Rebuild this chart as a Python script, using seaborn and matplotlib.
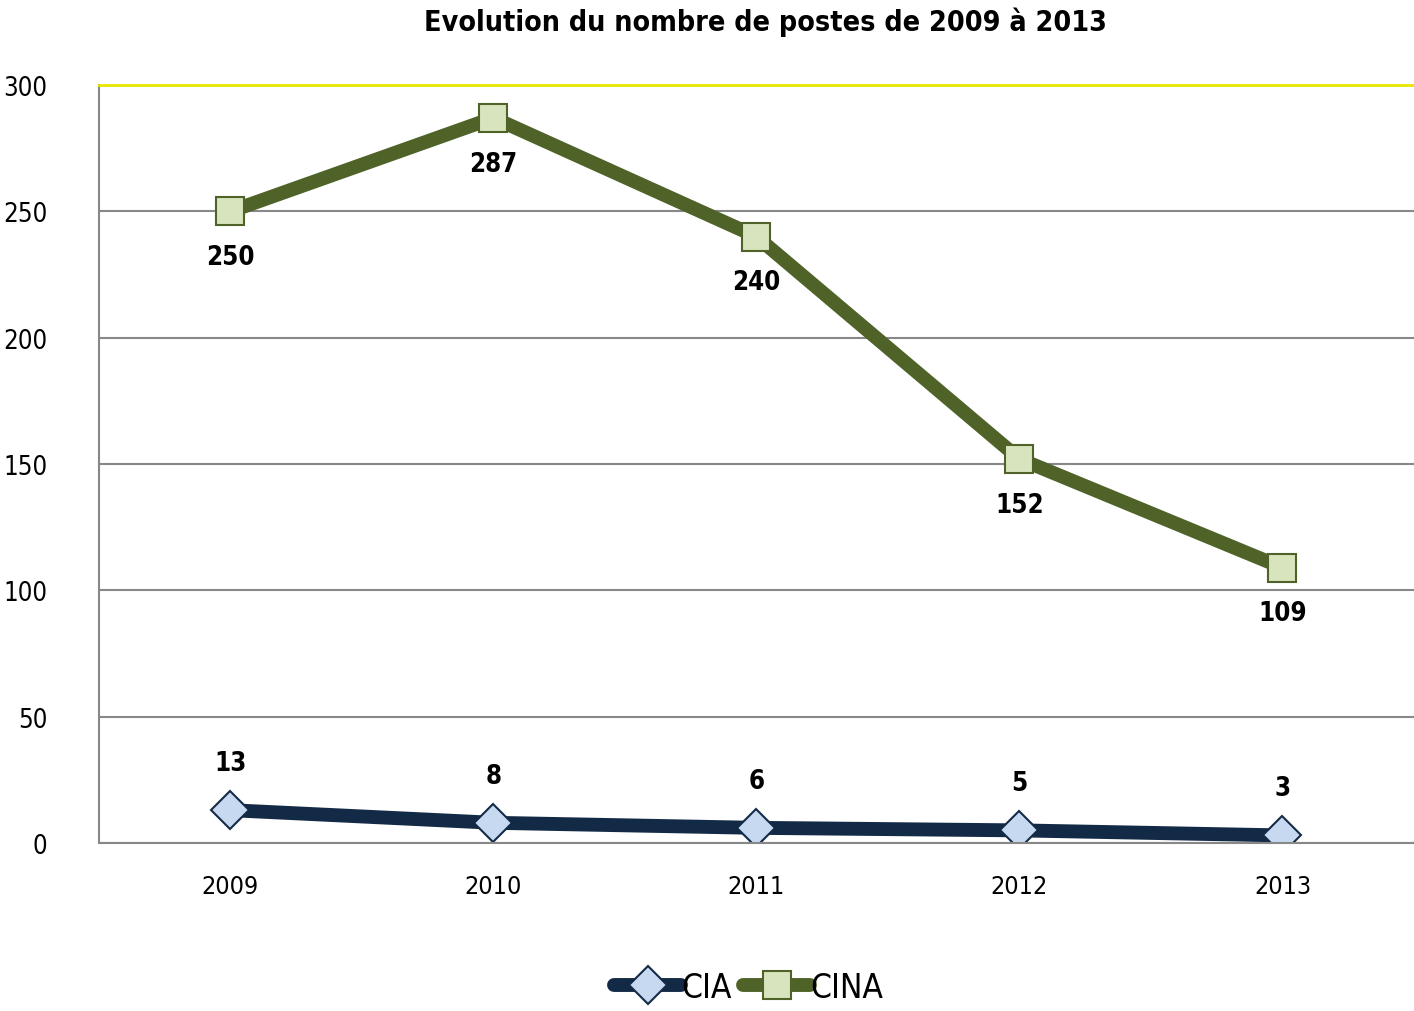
import matplotlib
matplotlib.use("Agg")
import matplotlib.pyplot as plt
import seaborn as sns
import pandas as pd
from matplotlib import font_manager as fm

years = ["2009", "2010", "2011", "2012", "2013"]
cia = [13, 8, 6, 5, 3]
cina = [250, 287, 240, 152, 109]
title = "Evolution du nombre de postes de 2009 à 2013"

sns.set_style("white")
names = {f.name for f in fm.fontManager.ttflist}
fam = [n for n in ['Liberation Sans Narrow', 'DejaVu Sans'] if n in names]
plt.rcParams['font.family'] = fam
plt.rcParams['font.stretch'] = 'condensed'
plt.rcParams['text.color'] = 'black'
plt.rcParams['xtick.color'] = 'black'
plt.rcParams['ytick.color'] = 'black'

df = pd.DataFrame({
    "x": [i + 0.5 for i in range(len(years))] * 2,
    "val": cia + cina,
    "serie": ["CIA"] * len(years) + ["CINA"] * len(years),
})

fig = plt.figure(figsize=(14.14, 10.12), dpi=100)
ax = fig.add_axes([0.070, 0.166, 0.930, 0.749])

line_cols = {"CIA": "#132a46", "CINA": "#4f6228"}
face_cols = {"CIA": "#c6d9f1", "CINA": "#d7e4bd"}
markers = {"CIA": "D", "CINA": "s"}

for s in ["CIA", "CINA"]:
    sub = df[df.serie == s]
    sns.lineplot(data=sub, x="x", y="val", ax=ax, color=line_cols[s], lw=10,
                 marker=markers[s], markersize=20 if s == "CINA" else 19,
                 markerfacecolor=face_cols[s], markeredgecolor=line_cols[s],
                 markeredgewidth=1.5, label=s, solid_capstyle="round")
    for xv, yv in zip(sub.x, sub.val):
        off = 34 if s == "CIA" else -33
        ax.annotate(str(yv), (xv, yv), xytext=(0, off), textcoords="offset points",
                    ha="center", va="center", fontsize=18.5, fontweight="bold",
                    color="black")

ax.set_xlim(0, 5)
ax.set_ylim(0, 300)
ax.set_yticks([0, 50, 100, 150, 200, 250, 300])
ax.set_xticks([i + 0.5 for i in range(5)])
ax.set_xticklabels(years)
ax.set_xticks(range(6), minor=True)
ax.tick_params(axis="x", which="major", length=0, pad=22, labelsize=18, labelcolor="black")
ax.tick_params(axis="x", which="minor", length=8, color="#888888", width=1.5, direction="out")
ax.tick_params(axis="y", length=8, color="#888888", width=1.5, direction="out",
               labelsize=18.5, pad=29, labelcolor="black")
ax.grid(axis="y", color="#888888", lw=1.5)
ax.set_axisbelow(True)
ax.set_xlabel("")
ax.set_ylabel("")
ax.spines["top"].set_color("#e6e600")
ax.spines["top"].set_linewidth(2)
ax.spines["right"].set_visible(False)
ax.spines["left"].set_color("#888888")
ax.spines["left"].set_linewidth(1.5)
ax.spines["bottom"].set_color("#888888")
ax.spines["bottom"].set_linewidth(1.5)

fig.text(0.541, 0.978, title, ha="center", va="center", fontsize=20.5,
         fontweight="bold", color="black")

leg = ax.legend(loc="center", bbox_to_anchor=(0.494, -0.19), ncol=2, frameon=False,
                fontsize=24, handlelength=2.0, handletextpad=0.0, columnspacing=0.35,
                borderaxespad=0)
for t in leg.get_texts():
    t.set_color("black")

fig.savefig("out.png", dpi=100)
